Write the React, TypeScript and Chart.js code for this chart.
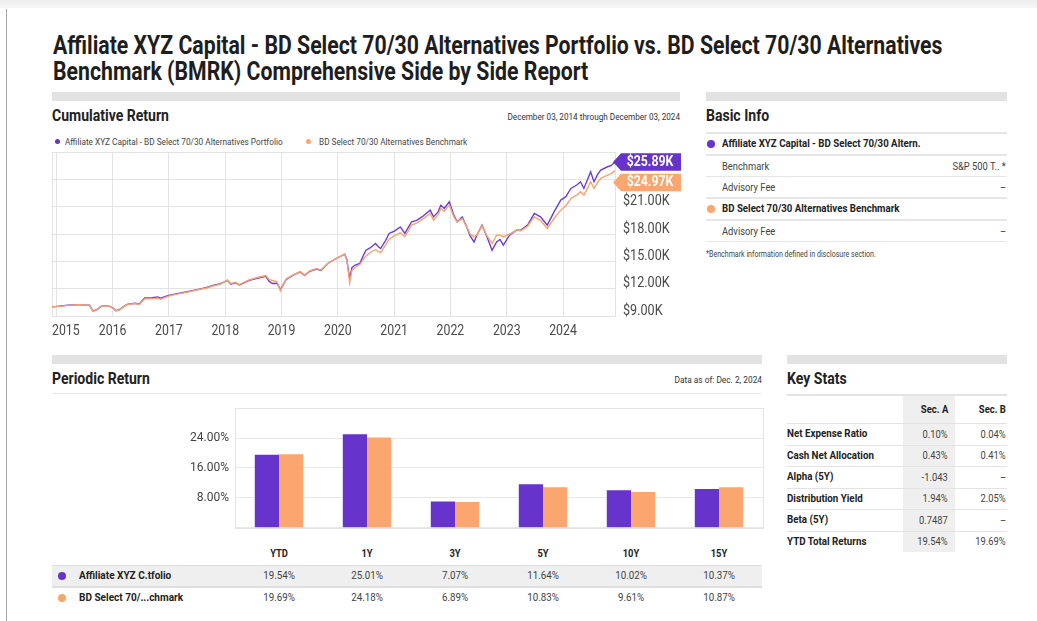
import React, { useEffect, useRef } from 'react';
import { Chart, registerables } from 'chart.js';

Chart.register(...registerables);

// ---------------- DATA ----------------
const cumDates = [
  2014.92, 2015.05, 2015.2, 2015.38, 2015.5, 2015.59, 2015.65, 2015.72, 2015.8, 2015.92,
  2016.0, 2016.06, 2016.12, 2016.2, 2016.27, 2016.4, 2016.47, 2016.57, 2016.7, 2016.8,
  2016.85, 2016.98, 2017.1, 2017.21, 2017.35, 2017.5, 2017.65, 2017.8, 2017.92, 2018.04,
  2018.1, 2018.18, 2018.25, 2018.35, 2018.43, 2018.55, 2018.72, 2018.78, 2018.84, 2018.92,
  2018.98, 2019.08, 2019.2, 2019.33, 2019.41, 2019.5, 2019.62, 2019.7, 2019.82, 2019.97,
  2020.12, 2020.16, 2020.19, 2020.21, 2020.25, 2020.3, 2020.39, 2020.45, 2020.5, 2020.58,
  2020.67, 2020.72, 2020.76, 2020.85, 2020.91, 2021.0, 2021.11, 2021.19, 2021.25, 2021.31,
  2021.4, 2021.5, 2021.64, 2021.7, 2021.78, 2021.83, 2021.89, 2021.98, 2022.06, 2022.12,
  2022.21, 2022.29, 2022.35, 2022.42, 2022.47, 2022.56, 2022.65, 2022.74, 2022.82, 2022.88,
  2022.94, 2023.05, 2023.17, 2023.25, 2023.37, 2023.49, 2023.6, 2023.72, 2023.84, 2023.96,
  2024.05, 2024.14, 2024.25, 2024.31, 2024.37, 2024.45, 2024.49, 2024.55, 2024.62, 2024.67,
  2024.79, 2024.85, 2024.923,
];

const portfolioGrowth = [
  10000, 10080, 10180, 10250, 10200, 10180, 9550, 9700, 10070, 10140,
  9900, 9590, 9700, 10050, 10290, 10400, 10300, 10980, 11000, 11090,
  10950, 11240, 11400, 11530, 11700, 11900, 12100, 12370, 12550, 12920,
  12500, 12650, 12400, 12700, 12920, 13100, 13360, 12800, 12560, 12600,
  11900, 13000, 13450, 13840, 13450, 13900, 14150, 14000, 14760, 15310,
  15780, 15200, 13900, 13110, 14300, 14570, 14760, 15600, 16220, 16500,
  16960, 16600, 16400, 17300, 18060, 18300, 18780, 18060, 18700, 19330,
  19500, 19900, 20620, 19880, 20430, 21170, 20800, 21530, 20070, 19330,
  19880, 18780, 17800, 17130, 17870, 18970, 17680, 16220, 17130, 17400,
  16770, 17870, 18420, 18420, 18970, 20250, 19880, 18970, 20430, 21720,
  22100, 23000, 23400, 23730, 23000, 24200, 24830, 23730, 24600, 25010,
  25380, 25500, 25890,
];

const benchmarkGrowth = [
  10000, 10060, 10170, 10240, 10210, 10170, 9500, 9680, 10060, 10120,
  9880, 9560, 9680, 10030, 10260, 10380, 10250, 10880, 10900, 10950,
  10850, 11150, 11350, 11480, 11650, 11850, 12050, 12320, 12500, 12950,
  12550, 12700, 12450, 12750, 12960, 13200, 13450, 13000, 12900, 12750,
  11760, 13050, 13500, 13880, 13500, 13950, 14200, 14050, 14760, 15300,
  15800, 15100, 13700, 12630, 14000, 14300, 14650, 15200, 15570, 16000,
  16300, 16100, 15960, 16800, 17400, 17800, 18130, 17700, 18300, 18990,
  19200, 19600, 20250, 19510, 20100, 20800, 20500, 21170, 19900, 19300,
  19700, 18800, 18000, 17680, 17900, 18900, 17800, 16960, 17870, 17900,
  17680, 18000, 18400, 18350, 18850, 19880, 19500, 18600, 19700, 20620,
  21100, 21900, 22300, 22630, 22270, 23200, 23730, 23000, 23700, 24100,
  24460, 24600, 24970,
];

const yearTicks = [2015, 2016, 2017, 2018, 2019, 2020, 2021, 2022, 2023, 2024];
const cumYTicks = [9000, 12000, 15000, 18000, 21000, 24000, 27000];
const cumYTickLabels = ['$9.00K', '$12.00K', '$15.00K', '$18.00K', '$21.00K', '', ''];

const seriesNames = [
  'Affiliate XYZ Capital - BD Select 70/30 Alternatives Portfolio',
  'BD Select 70/30 Alternatives Benchmark',
];

const periods = ['YTD', '1Y', '3Y', '5Y', '10Y', '15Y'];
const portfolioReturns = [19.54, 25.01, 7.07, 11.64, 10.02, 10.37];
const benchmarkReturns = [19.69, 24.18, 6.89, 10.83, 9.61, 10.87];
const periodicTicks = [0, 8, 16, 24, 32];
const periodicTickLabels = ['', '8.00%', '16.00%', '24.00%', ''];
const periodicRowNames = ['Affiliate XYZ C.tfolio', 'BD Select 70/...chmark'];

const keyStatLabels = ['Net Expense Ratio', 'Cash Net Allocation', 'Alpha (5Y)', 'Distribution Yield', 'Beta (5Y)', 'YTD Total Returns'];
const keyStatSecA = ['0.10%', '0.43%', '-1.043', '1.94%', '0.7487', '19.54%'];
const keyStatSecB = ['0.04%', '0.41%', '–', '2.05%', '–', '19.69%'];

// ---------------- STYLE ----------------
const W = 1037;
const H = 621;
const FONT = 'Roboto, "Noto Sans", sans-serif';
const SX = 0.85;
const PURPLE = '#6633cc';
const ORANGE = '#fba66e';
const LINE_PURPLE = '#6b3fd2';
const LINE_ORANGE = '#f6a36e';
const GRID = '#e3e3e3';

function fmtPct(v: number) {
  return v.toFixed(2) + '%';
}

function T(props: { x: number; y: number; s: number; w?: number; c?: string; a?: 'left' | 'right' | 'center'; sx?: number; children: any }) {
  const { x, y, s, w = 400, c = '#333', a = 'left', sx = SX, children } = props;
  const style: any = {
    position: 'absolute',
    top: y - s / 2,
    fontSize: s,
    fontWeight: w,
    color: c,
    lineHeight: `${s}px`,
    whiteSpace: 'nowrap',
    fontFamily: FONT,
  };
  if (a === 'left') {
    style.left = x;
    style.transformOrigin = 'left center';
    style.transform = `scaleX(${sx})`;
  } else if (a === 'right') {
    style.right = W - x;
    style.transformOrigin = 'right center';
    style.transform = `scaleX(${sx})`;
  } else {
    style.left = x;
    style.transformOrigin = 'center center';
    style.transform = `translateX(-50%) scaleX(${sx})`;
  }
  return <div style={style}>{children}</div>;
}

function Box(props: { x: number; y: number; w: number; h: number; c: string }) {
  return <div style={{ position: 'absolute', left: props.x, top: props.y, width: props.w, height: props.h, background: props.c }} />;
}

function Dot(props: { x: number; y: number; r: number; c: string }) {
  return (
    <div
      style={{
        position: 'absolute',
        left: props.x - props.r,
        top: props.y - props.r,
        width: props.r * 2,
        height: props.r * 2,
        borderRadius: '50%',
        background: props.c,
      }}
    />
  );
}

function drawCondensed(ctx: CanvasRenderingContext2D, text: string, x: number, y: number, sx: number) {
  ctx.save();
  ctx.translate(x, y);
  ctx.scale(sx, 1);
  ctx.fillText(text, 0, 0);
  ctx.restore();
}

const framePlugin = {
  id: 'frame',
  beforeDatasetsDraw(chart: any) {
    const { left, top, right, bottom } = chart.chartArea;
    const ctx = chart.ctx;
    ctx.save();
    ctx.strokeStyle = GRID;
    ctx.lineWidth = 1;
    ctx.strokeRect(Math.round(left) + 0.5, Math.round(top) + 0.5, Math.round(right - left), Math.round(bottom - top));
    ctx.restore();
  },
};

const cumLabelsPlugin = {
  id: 'cumLabels',
  afterDraw(chart: any) {
    const ctx = chart.ctx;
    const area = chart.chartArea;
    const xs = chart.scales.x;
    const ys = chart.scales.y;
    ctx.save();
    ctx.fillStyle = '#4a4a4a';
    ctx.textBaseline = 'middle';
    ctx.font = `14px ${FONT}`;
    const sx = 0.88;
    // x labels
    ctx.textAlign = 'center';
    yearTicks.forEach((v) => {
      const label = String(v);
      const w = ctx.measureText(label).width * sx;
      let cx = xs.getPixelForValue(v);
      if (cx - w / 2 < area.left) cx = area.left + w / 2;
      drawCondensed(ctx, label, cx, area.bottom + 15, sx);
    });
    // y labels
    ctx.textAlign = 'left';
    cumYTicks.forEach((v, i) => {
      const label = cumYTickLabels[i];
      if (!label) return;
      drawCondensed(ctx, label, area.right + 8, ys.getPixelForValue(v) - 5, 0.9);
    });
    // end badges
    const colors = [PURPLE, ORANGE];
    const items = chart.data.datasets
      .map((ds: any, i: number) => {
        const last = ds.data[ds.data.length - 1].y;
        return { y: ys.getPixelForValue(last), color: colors[i], text: '$' + (last / 1000).toFixed(2) + 'K' };
      })
      .sort((a: any, b: any) => a.y - b.y);
    for (let i = 1; i < items.length; i++) {
      if (items[i].y < items[i - 1].y + 20.3) items[i].y = items[i - 1].y + 20.3;
    }
    const h = 17.5;
    items.forEach((it: any) => {
      const tip = area.right - 2;
      const bl = area.right + 6;
      const br = area.right + 66;
      ctx.fillStyle = it.color;
      ctx.beginPath();
      ctx.moveTo(tip, it.y);
      ctx.lineTo(bl, it.y - h / 2);
      ctx.lineTo(br, it.y - h / 2);
      ctx.lineTo(br, it.y + h / 2);
      ctx.lineTo(bl, it.y + h / 2);
      ctx.closePath();
      ctx.fill();
      ctx.fillStyle = '#ffffff';
      ctx.font = `bold 14px ${FONT}`;
      ctx.textAlign = 'center';
      drawCondensed(ctx, it.text, (bl + br) / 2 - 1, it.y + 0.5, 0.88);
    });
    ctx.restore();
  },
};

export default function App() {
  const lineRef = useRef<HTMLCanvasElement | null>(null);
  const barRef = useRef<HTMLCanvasElement | null>(null);

  useEffect(() => {
    const lineChart = new Chart(lineRef.current as HTMLCanvasElement, {
      type: 'line',
      data: {
        datasets: [
          {
            label: seriesNames[0],
            data: cumDates.map((t, i) => ({ x: t, y: portfolioGrowth[i] })),
            borderColor: LINE_PURPLE,
            borderWidth: 1.4,
            pointRadius: 0,
            tension: 0,
            order: 2,
          },
          {
            label: seriesNames[1],
            data: cumDates.map((t, i) => ({ x: t, y: benchmarkGrowth[i] })),
            borderColor: LINE_ORANGE,
            borderWidth: 1.4,
            pointRadius: 0,
            tension: 0,
            order: 1,
          },
        ],
      },
      options: {
        animation: false,
        responsive: false,
        devicePixelRatio: 1,
        layout: { padding: { left: 12, top: 12, right: 0, bottom: 0 } },
        plugins: { legend: { display: false }, tooltip: { enabled: false } },
        scales: {
          x: {
            type: 'linear',
            min: 2014.923,
            max: 2024.923,
            afterBuildTicks: (s: any) => {
              s.ticks = yearTicks.map((v) => ({ value: v }));
            },
            afterFit: (s: any) => {
              s.height = 34;
            },
            ticks: { display: false },
            grid: { color: GRID, drawTicks: false },
            border: { display: false },
          },
          y: {
            position: 'right',
            min: 9000,
            max: 27000,
            afterBuildTicks: (s: any) => {
              s.ticks = cumYTicks.map((v) => ({ value: v }));
            },
            afterFit: (s: any) => {
              s.width = 75;
            },
            ticks: { display: false },
            grid: { color: GRID, drawTicks: false },
            border: { display: false },
          },
        },
      } as any,
      plugins: [framePlugin, cumLabelsPlugin],
    });

    const barChart = new Chart(barRef.current as HTMLCanvasElement, {
      type: 'bar',
      data: {
        labels: periods,
        datasets: [
          { label: seriesNames[0], data: portfolioReturns, backgroundColor: PURPLE, borderWidth: 0, barPercentage: 1, categoryPercentage: 0.55 },
          { label: seriesNames[1], data: benchmarkReturns, backgroundColor: ORANGE, borderWidth: 0, barPercentage: 1, categoryPercentage: 0.55 },
        ],
      },
      options: {
        animation: false,
        responsive: false,
        devicePixelRatio: 1,
        layout: { padding: { left: 0, top: 7, right: 7, bottom: 6 } },
        plugins: { legend: { display: false }, tooltip: { enabled: false } },
        scales: {
          x: {
            grid: { display: false },
            ticks: { display: false },
            border: { display: false },
            afterFit: (s: any) => {
              s.height = 0;
            },
          },
          y: {
            min: 0,
            max: 32,
            afterBuildTicks: (s: any) => {
              s.ticks = periodicTicks.map((v) => ({ value: v }));
            },
            afterFit: (s: any) => {
              s.width = 65;
            },
            ticks: {
              callback: (v: any) => periodicTickLabels[periodicTicks.indexOf(Number(v))],
              font: { family: 'Roboto', size: 12 },
              color: '#444',
              padding: 6,
            },
            grid: { color: '#e8e8e8', drawTicks: false },
            border: { display: false },
          },
        },
      } as any,
      plugins: [framePlugin],
    });

    return () => {
      lineChart.destroy();
      barChart.destroy();
    };
  }, []);

  const catCenter = (i: number) => 235 + 88 * (i + 0.5);
  const keyRowY = [434, 455.5, 477, 498.5, 520, 541.5];
  const keyLineY = [423, 444.5, 466, 487.5, 509, 530.5];

  return (
    <div style={{ position: 'fixed', left: 0, top: 0, width: W, height: H, background: '#fff', overflow: 'hidden', fontFamily: FONT }}>
      {/* page chrome */}
      <div style={{ position: 'absolute', left: 0, top: 0, width: W, height: 8, background: 'linear-gradient(#eeeeee, #f6f6f6)' }} />
      <Box x={5.5} y={9} w={1.5} h={H - 9} c="#a8a8a8" />

      {/* title */}
      <T x={53} y={45} s={25} w={700} c="#1e1e1e">Affiliate XYZ Capital - BD Select 70/30 Alternatives Portfolio vs. BD Select 70/30 Alternatives</T>
      <T x={53} y={71} s={25} w={700} c="#1e1e1e">Benchmark (BMRK) Comprehensive Side by Side Report</T>

      {/* Cumulative Return */}
      <Box x={52} y={92} w={628} h={9} c="#e2e2e2" />
      <T x={52} y={116} s={16.5} w={700} c="#222">Cumulative Return</T>
      <T x={680} y={117} s={9.6} c="#333" a="right">December 03, 2014 through December 03, 2024</T>
      <Dot x={57} y={141.5} r={2.5} c={PURPLE} />
      <T x={65} y={141.5} s={9.7} c="#444">{seriesNames[0]}</T>
      <Dot x={308} y={141.5} r={2.5} c={ORANGE} />
      <T x={319} y={141.5} s={9.7} c="#444">{seriesNames[1]}</T>
      <canvas ref={lineRef} width={650} height={210} style={{ position: 'absolute', left: 40, top: 140 }} />

      {/* Basic Info */}
      <Box x={706} y={92} w={301} h={9} c="#e2e2e2" />
      <T x={706} y={116} s={16.5} w={700} c="#222">Basic Info</T>
      {[133, 155, 176.5, 198, 220, 241.5].map((y, i) => (
        <Box key={i} x={706} y={y - 1} w={301} h={1.5} c="#e6e6e6" />
      ))}
      <Dot x={711} y={144} r={4} c={PURPLE} />
      <T x={722} y={144} s={11.4} w={700} c="#222">Affiliate XYZ Capital - BD Select 70/30 Altern.</T>
      <T x={722} y={166} s={11} c="#444">Benchmark</T>
      <T x={1006} y={166} s={11} c="#444" a="right">S&amp;P 500 T.. *</T>
      <T x={722} y={187.5} s={11} c="#444">Advisory Fee</T>
      <T x={1006} y={187.5} s={11} c="#444" a="right">–</T>
      <Dot x={711} y={209} r={4} c={ORANGE} />
      <T x={722} y={209} s={11.4} w={700} c="#222">BD Select 70/30 Alternatives Benchmark</T>
      <T x={722} y={231} s={11} c="#444">Advisory Fee</T>
      <T x={1006} y={231} s={11} c="#444" a="right">–</T>
      <T x={706} y={254.5} s={8.3} c="#444">*Benchmark information defined in disclosure section.</T>

      {/* Periodic Return */}
      <Box x={52} y={355} w={710} h={9} c="#e2e2e2" />
      <T x={52} y={379} s={16.5} w={700} c="#222">Periodic Return</T>
      <T x={762} y={380} s={9.8} c="#333" a="right">Data as of: Dec. 2, 2024</T>
      <Box x={52} y={392.5} w={710} h={1.5} c="#e6e6e6" />
      <canvas ref={barRef} width={600} height={146} style={{ position: 'absolute', left: 170, top: 395 }} />
      {periods.map((p, i) => (
        <T key={p} x={catCenter(i)} y={553} s={11} w={700} c="#222" a="center">{p}</T>
      ))}
      <Box x={52} y={564.5} w={710} h={1.5} c="#dedede" />
      <Box x={52} y={566} w={710} h={20} c="#efefef" />
      <Box x={52} y={586} w={710} h={1.5} c="#dedede" />
      <Dot x={62} y={576} r={4} c={PURPLE} />
      <T x={79} y={576} s={11.8} w={700} c="#222">{periodicRowNames[0]}</T>
      {portfolioReturns.map((v, i) => (
        <T key={'p' + i} x={catCenter(i)} y={576} s={11.5} c="#444" a="center">{fmtPct(v)}</T>
      ))}
      <Dot x={62} y={597.5} r={4} c={ORANGE} />
      <T x={79} y={597.5} s={11.8} w={700} c="#222">{periodicRowNames[1]}</T>
      {benchmarkReturns.map((v, i) => (
        <T key={'b' + i} x={catCenter(i)} y={597.5} s={11.5} c="#444" a="center">{fmtPct(v)}</T>
      ))}

      {/* Key Stats */}
      <Box x={787} y={355} w={220} h={9} c="#e2e2e2" />
      <T x={787} y={379} s={16.5} w={700} c="#222">Key Stats</T>
      <Box x={902.5} y={395} w={52} h={157} c="#efefef" />
      <Box x={787} y={394} w={220} h={1.5} c="#e3e3e3" />
      {keyLineY.map((y, i) => (
        <Box key={i} x={787} y={y} w={220} h={1} c="#e3e3e3" />
      ))}
      <T x={948} y={410} s={11.2} w={700} c="#222" a="right">Sec. A</T>
      <T x={1006} y={410} s={11.2} w={700} c="#222" a="right">Sec. B</T>
      {keyStatLabels.map((l, i) => (
        <React.Fragment key={l}>
          <T x={787} y={keyRowY[i]} s={11.5} w={700} c="#222">{l}</T>
          <T x={948} y={keyRowY[i]} s={11} c="#444" a="right">{keyStatSecA[i]}</T>
          <T x={1006} y={keyRowY[i]} s={11} c="#444" a="right">{keyStatSecB[i]}</T>
        </React.Fragment>
      ))}
    </div>
  );
}
